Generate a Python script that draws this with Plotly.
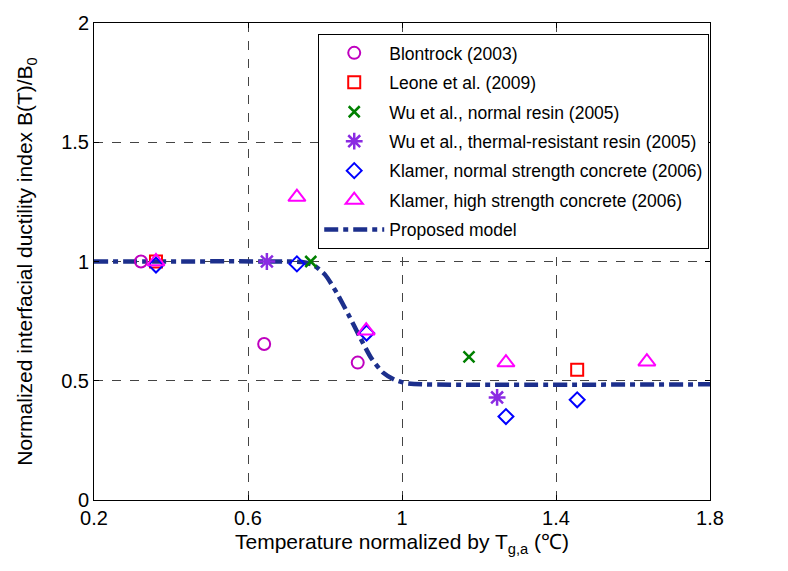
import plotly.graph_objects as go

# Experimental data (normalized temperature, normalized ductility index)
blontrock_x = [0.322, 0.642, 0.885]
blontrock_y = [1.0, 0.654, 0.576]
leone_x = [0.361, 1.455]
leone_y = [1.0, 0.546]
wu_normal_x = [0.763, 1.174]
wu_normal_y = [1.0, 0.60]
wu_thermal_x = [0.649, 1.247]
wu_thermal_y = [1.0, 0.43]
klamer_nsc_x = [0.361, 0.727, 0.908, 1.270, 1.455]
klamer_nsc_y = [0.985, 0.99, 0.70, 0.35, 0.42]
klamer_hsc_x = [0.361, 0.727, 0.907, 1.270, 1.636]
klamer_hsc_y = [1.0, 1.27, 0.71, 0.576, 0.58]
model_x = [0.2, 0.70, 0.74, 0.77, 0.80, 0.83, 0.86, 0.89, 0.92, 0.95, 0.98, 1.01, 1.05, 1.8]
model_y = [1.0, 1.0, 0.998, 0.985, 0.945, 0.87, 0.78, 0.685, 0.595, 0.535, 0.505, 0.49, 0.485, 0.485]

x_ticks = [0.2, 0.6, 1.0, 1.4, 1.8]
x_tick_labels = ["0.2", "0.6", "1", "1.4", "1.8"]
y_ticks = [0, 0.5, 1, 1.5, 2]
y_tick_labels = ["0", "0.5", "1", "1.5", "2"]

FONT = "Liberation Sans, Arial, sans-serif"

fig = go.Figure()

fig.add_trace(go.Scatter(
    x=model_x, y=model_y, mode="lines", name="Proposed model",
    line=dict(color="#1c2f8c", width=4.5, dash="14px,5px,5px,5px", shape="spline", smoothing=0.6),
    legendrank=2000, legendgroup="g7"))

def add_markers(x, y, name, symbol, color, size, lw, rank):
    fig.add_trace(go.Scatter(
        x=x, y=y, mode="markers", name=name,
        marker=dict(symbol=symbol, size=size, color=color,
                    line=dict(color=color, width=lw)),
        legendrank=rank, legendgroup="g%d" % rank))

add_markers(blontrock_x, blontrock_y, "Blontrock (2003)", "circle-open", "#bf00bf", 12, 2, 1)
add_markers(leone_x, leone_y, "Leone et al. (2009)", "square-open", "#ff0000", 12, 2, 2)
add_markers(wu_normal_x, wu_normal_y, "Wu et al., normal resin (2005)", "x-thin-open", "#008000", 11, 2.5, 3)
add_markers(wu_thermal_x, wu_thermal_y, "Wu et al., thermal-resistant resin (2005)", "asterisk-open", "#8a2be2", 14, 2.5, 4)
add_markers(klamer_nsc_x, klamer_nsc_y, "Klamer, normal strength concrete (2006)", "diamond-open", "#0000ff", 11.5, 2, 5)
add_markers(klamer_hsc_x, klamer_hsc_y, "Klamer, high strength concrete (2006)", "triangle-up-open", "#ff00ff", 15, 2, 6)

axis_common = dict(
    showline=True, linecolor="black", linewidth=1, mirror="ticks",
    ticks="inside", ticklen=5, tickcolor="black",
    showgrid=True, gridcolor="#444444", griddash="dash", gridwidth=1,
    zeroline=False, tickfont=dict(family=FONT, size=20, color="black"),
)

fig.update_xaxes(range=[0.2, 1.8], tickvals=x_ticks, ticktext=x_tick_labels,
                 title=dict(text="Temperature normalized by T<sub>g,a</sub> (℃)",
                            font=dict(family=FONT, size=21, color="black"), standoff=6),
                 **axis_common)
fig.update_yaxes(range=[0, 2], tickvals=y_ticks, ticktext=y_tick_labels,
                 title=dict(text="Normalized interfacial ductility index B(T)/B<sub>0</sub>",
                            font=dict(family=FONT, size=21, color="black"), standoff=22),
                 **axis_common)

fig.update_layout(
    width=788, height=571,
    margin=dict(l=94, r=78, t=20, b=71),
    paper_bgcolor="white", plot_bgcolor="white",
    font=dict(family=FONT, size=20, color="black"),
    showlegend=True,
    legend=dict(x=0.364, y=0.977, xanchor="left", yanchor="top",
                bgcolor="white", bordercolor="black", borderwidth=1,
                font=dict(family=FONT, size=17.5, color="black"),
                itemwidth=60, tracegroupgap=3.7, traceorder="grouped"),
)

fig.write_html("out.html")
